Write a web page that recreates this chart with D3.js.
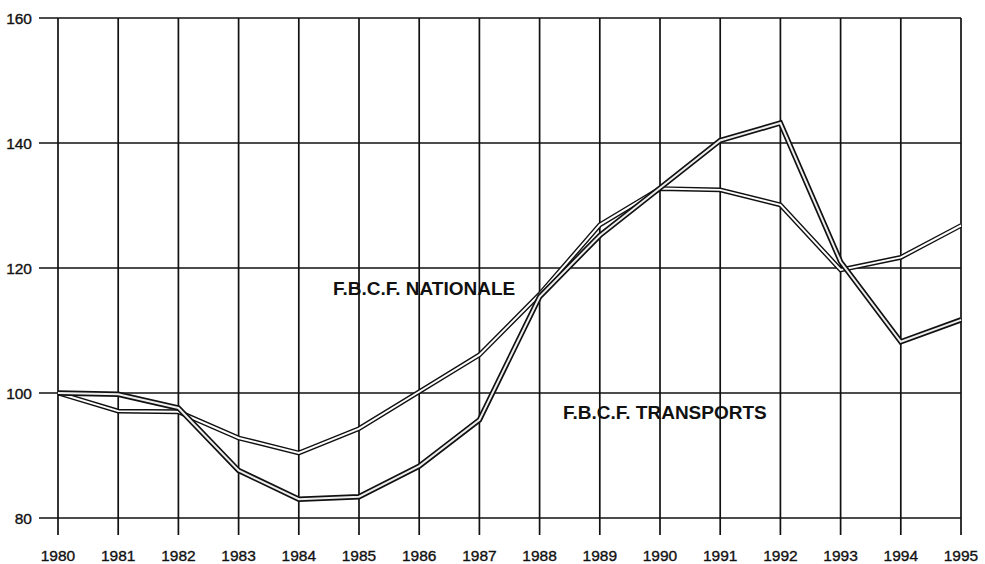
<!DOCTYPE html>
<html><head><meta charset="utf-8">
<script src="https://cdn.jsdelivr.net/npm/d3@7/dist/d3.min.js"></script>
<style>
html,body{margin:0;padding:0;background:#fff;}
svg{display:block;}
text{font-family:"Liberation Sans",Arial,sans-serif;fill:#111;}
</style></head>
<body><svg id="c" width="985" height="564"></svg>
<script>
const years = [1980,1981,1982,1983,1984,1985,1986,1987,1988,1989,1990,1991,1992,1993,1994,1995];
const nationale = [100,97.1,97.0,92.8,90.4,94.3,100.2,106.1,115.8,126.9,132.7,132.5,130.1,119.7,121.7,126.8];
const transports = [100,99.8,97.6,87.6,83.0,83.4,88.3,95.7,115.4,125.2,132.8,140.4,143.2,121.0,108.2,111.7];
const yTicks = [80,100,120,140,160];
const seriesLabels = ["F.B.C.F. NATIONALE","F.B.C.F. TRANSPORTS"];

const svg = d3.select("#c");
const x = d3.scaleLinear().domain([1980,1995]).range([58,961]);
const y = d3.scaleLinear().domain([80,160]).range([518,18]);

// grid
const g = svg.append("g");
g.selectAll("line.h").data(yTicks).join("line")
  .attr("x1",39).attr("x2",961)
  .attr("y1",d=>y(d)).attr("y2",d=>y(d))
  .attr("stroke","#111").attr("stroke-width",1.7);
g.selectAll("line.v").data(years).join("line")
  .attr("x1",d=>x(d)).attr("x2",d=>x(d))
  .attr("y1",y(160)).attr("y2",535)
  .attr("stroke","#111").attr("stroke-width",1.7);

// axis labels
g.selectAll("text.yl").data(yTicks).join("text")
  .attr("x",32).attr("y",d=>y(d)+5.5)
  .attr("text-anchor","end").attr("font-size",15.5)
  .attr("stroke","#111").attr("stroke-width",0.35)
  .text(d=>d);
g.selectAll("text.xl").data(years).join("text")
  .attr("x",d=>x(d)).attr("y",561)
  .attr("text-anchor","middle").attr("font-size",15.5)
  .attr("stroke","#111").attr("stroke-width",0.35)
  .text(d=>d);

const line = d3.line().x((d,i)=>x(years[i])).y(d=>y(d));
function dbl(data, outer, inner, innerColor){
  svg.append("path").attr("d",line(data)).attr("fill","none")
    .attr("stroke","#111").attr("stroke-width",outer).attr("stroke-linejoin","miter");
  svg.append("path").attr("d",line(data)).attr("fill","none")
    .attr("stroke",innerColor).attr("stroke-width",inner).attr("stroke-linejoin","miter");
}
dbl(nationale,4.8,2,"#fff");
dbl(transports,5.4,2,"#eee");

svg.append("text").attr("x",333).attr("y",295).attr("font-size",19)
  .attr("font-weight","bold").text(seriesLabels[0]);
svg.append("text").attr("x",563).attr("y",419).attr("font-size",19)
  .attr("font-weight","bold").text(seriesLabels[1]);
</script></body></html>
